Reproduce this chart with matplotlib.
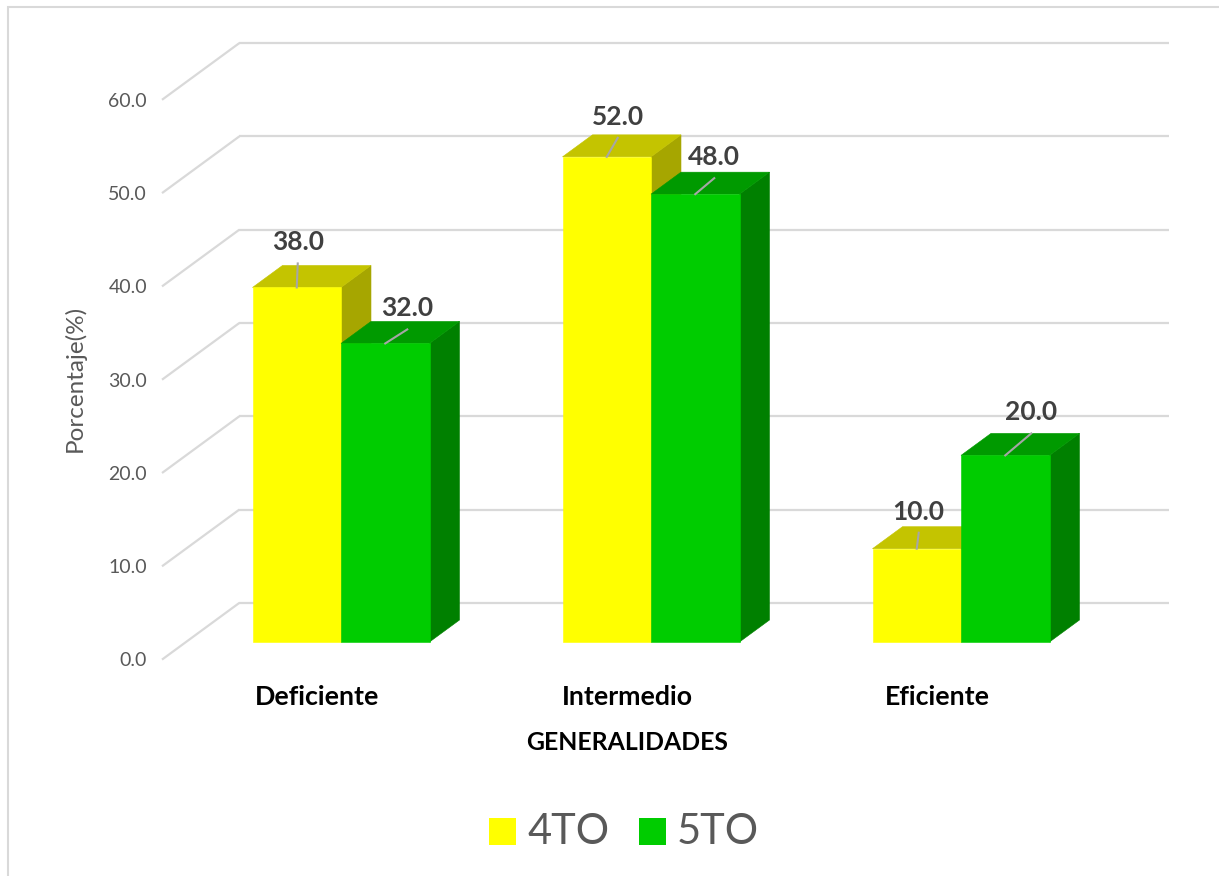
import matplotlib
matplotlib.use("Agg")
import matplotlib.pyplot as plt
from matplotlib.patches import Polygon, Rectangle

# ---- data ----
categories = ["Deficiente", "Intermedio", "Eficiente"]
series_names = ["4TO", "5TO"]
values_4to = [38.0, 52.0, 10.0]
values_5to = [32.0, 48.0, 20.0]
y_ticks = [0, 10, 20, 30, 40, 50, 60]
x_title = "GENERALIDADES"
y_title = "Porcentaje(%)"

# ---- styles ----
FONT = ["Lato", "DejaVu Sans"]
plt.rcParams["font.family"] = FONT
face_colors = {
    "4TO": ("#FFFF00", "#C4C400", "#A6A600"),   # front, top, side
    "5TO": ("#00CC00", "#009A00", "#008000"),
}
GRID = "#D9D9D9"
TXT = "#595959"
LBL = "#404040"

# ---- layout (pixel geometry of the oblique projection) ----
W, H = 1219, 876
PX_CAT = 310.0      # pixels per category step
X0_PX = 341.0       # pixel x of first category centre (front plane)
PX_PCT = 9.33       # pixels per percent
BASE_PX = 642.0     # pixel y (from top) of value 0 on the bar front plane
BAR_W = 88.5 / PX_CAT
DEPTH = (30.0 / PX_CAT, 22.0 / PX_PCT)   # bar depth vector in data units
BACK = 1.78          # back wall position, in bar depths
FRONT = -0.8         # front floor edge, in bar depths

# label offsets from top-front centre of each bar, in pixels (dx right, dy up)
label_shift = [[(1, 45), (22, 35)], [(11, 40), (19, 37)], [(2, 37), (26, 43)]]

fig = plt.figure(figsize=(W / 100, H / 100), dpi=100)
ax = fig.add_axes([0, 0, 1, 1])
ax.set_xlim(-X0_PX / PX_CAT, (W - X0_PX) / PX_CAT)
ax.set_ylim((BASE_PX - H) / PX_PCT, BASE_PX / PX_PCT)
ax.axis("off")

# chart border
fig.patches.append(Rectangle((8 / W, 0 - 0.01), 1.2, (H - 7) / H + 0.01,
                             transform=fig.transFigure, fill=False,
                             edgecolor=GRID, lw=1.5))

def shift(p, k):
    return (p[0] + k * DEPTH[0], p[1] + k * DEPTH[1])

x_left, x_right = -0.5, len(categories) - 0.5

# back-wall and side-wall gridlines
for v in y_ticks:
    b0 = shift((x_left, v), BACK)
    b1 = shift((x_right, v), BACK)
    f0 = shift((x_left, v), FRONT)
    ax.plot([b0[0], b1[0]], [b0[1], b1[1]], color=GRID, lw=1.6, zorder=1,
            solid_capstyle="butt")
    ax.plot([f0[0], b0[0]], [f0[1], b0[1]], color=GRID, lw=1.6, zorder=1,
            solid_capstyle="butt")
    ax.text(f0[0] - 15 / PX_CAT, f0[1] - 0.15, f"{v:.1f}", ha="right",
            va="center", fontsize=14, color=TXT)

# 3D columns
def bar3d(x0, x1, v, colors, z):
    front, top, side = colors
    pts_front = [(x0, 0), (x1, 0), (x1, v), (x0, v)]
    pts_top = [(x0, v), (x1, v), shift((x1, v), 1), shift((x0, v), 1)]
    pts_side = [(x1, 0), shift((x1, 0), 1), shift((x1, v), 1), (x1, v)]
    for pts, c in ((pts_side, side), (pts_top, top), (pts_front, front)):
        ax.add_patch(Polygon(pts, closed=True, facecolor=c, edgecolor=c,
                             lw=0.4, zorder=z))

z = 3
for i, cat in enumerate(categories):
    for j, (name, vals) in enumerate(zip(series_names, [values_4to, values_5to])):
        v = vals[i]
        x0 = i - BAR_W + j * BAR_W
        x1 = x0 + BAR_W
        bar3d(x0, x1, v, face_colors[name], z)
        z += 1
        cx = (x0 + x1) / 2
        dx, dy = label_shift[i][j]
        lx, ly = cx + dx / PX_CAT, v + dy / PX_PCT
        ax.plot([cx, lx], [v, ly - 21 / PX_PCT], color="#A6A6A6", lw=1.5,
                zorder=50)
        ax.text(lx, ly, f"{v:.1f}", ha="center", va="center", fontsize=19,
                fontweight="bold", color=LBL, zorder=60)

# category labels on the front floor edge
for i, cat in enumerate(categories):
    p = shift((i, 0), FRONT)
    ax.text(p[0], (BASE_PX - 697) / PX_PCT, cat, ha="center", va="center",
            fontsize=19.3, fontweight="bold", color="black")

ax.text(shift((1, 0), FRONT)[0], (BASE_PX - 742) / PX_PCT, x_title,
        ha="center", va="center", fontsize=17.8, fontweight="bold",
        color="black")

fig.text(75 / W, 1 - 378 / H, y_title, rotation=90, ha="center",
         va="center", fontsize=17.5, color=TXT)

# legend
for name, sx in zip(series_names, (489, 639)):
    fig.patches.append(Rectangle((sx / W, 1 - 845 / H), 27 / W, 27 / H,
                                 transform=fig.transFigure,
                                 facecolor=face_colors[name][0], lw=0))
    fig.text((sx + 38) / W, 1 - 832 / H, name, ha="left", va="center",
             fontsize=30, color=TXT)

fig.savefig("out.png", dpi=100)
